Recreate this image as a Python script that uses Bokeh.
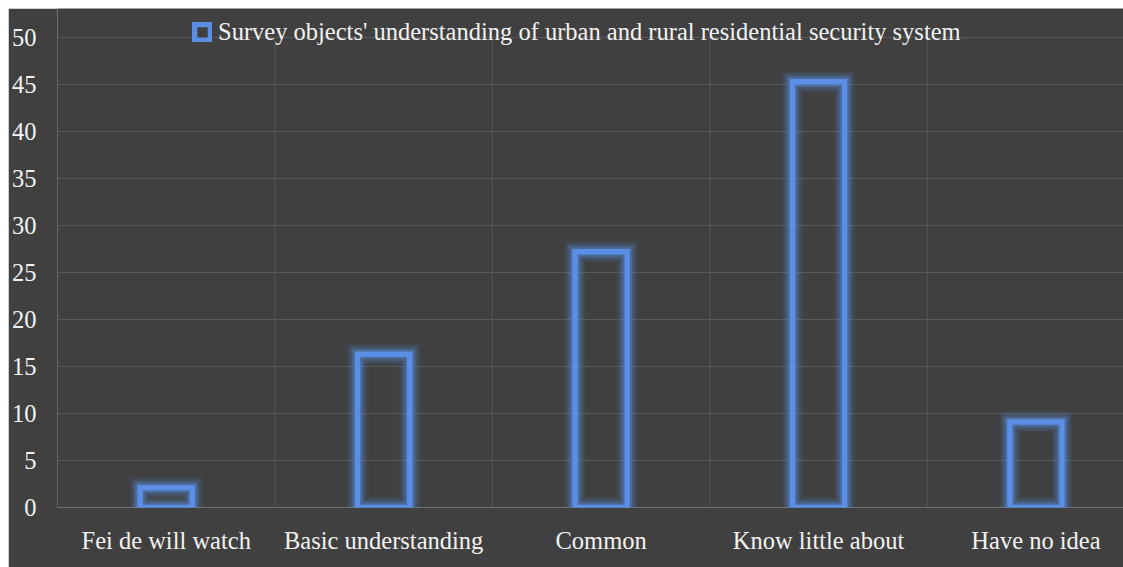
from bokeh.plotting import figure
from bokeh.models import Range1d, FixedTicker, Legend, LegendItem
from bokeh.embed import file_html
from bokeh.resources import INLINE

categories = ["Fei de will watch", "Basic understanding", "Common", "Know little about", "Have no idea"]
values = [2.1, 16.3, 27.2, 45.3, 9.1]
y_ticks = [0, 5, 10, 15, 20, 25, 30, 35, 40, 45, 50]
boundaries = [0, 1, 2, 3, 4]
legend_label = "Survey objects' understanding of urban and rural residential security system"

BG = "#404040"
BLUE = "#5b8ee6"
TEXT = "#f2f2f2"
GRID = "#585858"
FONT = "Liberation Serif"
AXIS_FONT = "serif"

xs = [i + 0.5 for i in range(len(categories))]
y_top = y_ticks[-1]

p = figure(width=1115, height=559, output_backend="svg", toolbar_location=None,
           x_range=Range1d(0, 4.9026), y_range=Range1d(0, 53.085),
           min_border_left=45, min_border_top=0, min_border_bottom=60, min_border_right=0,
           background_fill_color=BG, border_fill_color=BG, outline_line_color=None,
           margin=(8, 0, 0, 8))

# vertical category gridlines, only up to the top tick
p.segment(x0=boundaries, x1=boundaries, y0=[0] * len(boundaries), y1=[y_top] * len(boundaries),
          line_color=GRID, line_width=1)

# glow layers
for lw, a in [(22, 0.07), (18, 0.11), (14, 0.18), (10, 0.32)]:
    p.vbar(x=xs, top=values, bottom=0, width=0.24, fill_color=None,
           line_color=BLUE, line_alpha=a, line_width=lw, line_join="miter")
main = p.vbar(x=xs, top=values, bottom=0, width=0.24, fill_color=None,
              line_color=BLUE, line_width=5.5, line_join="miter")

p.xaxis.ticker = FixedTicker(ticks=xs)
p.xaxis.major_label_overrides = {x: c for x, c in zip(xs, categories)}
p.yaxis.ticker = FixedTicker(ticks=y_ticks)
p.xgrid.visible = False
p.ygrid.ticker = FixedTicker(ticks=y_ticks)

for ax in p.axis:
    ax.axis_line_color = None
    ax.major_tick_line_color = None
    ax.minor_tick_line_color = None
    ax.major_label_text_font = AXIS_FONT
    ax.major_label_text_font_size = "24.5px"
    ax.major_label_text_color = TEXT
p.yaxis[0].major_label_standoff = 15
p.xaxis[0].major_label_standoff = 13

p.ygrid.grid_line_color = GRID
p.ygrid.grid_line_width = 1

legend = Legend(items=[LegendItem(label=legend_label, renderers=[main])],
                location=(135, 461), orientation="horizontal",
                background_fill_alpha=0, border_line_color=None,
                label_text_font=FONT, label_text_font_size="24.5px", label_text_color=TEXT,
                glyph_width=20, glyph_height=20, label_standoff=6, padding=0, margin=0)
p.add_layout(legend, "center")

open("out.html", "w").write(file_html(p, INLINE))
